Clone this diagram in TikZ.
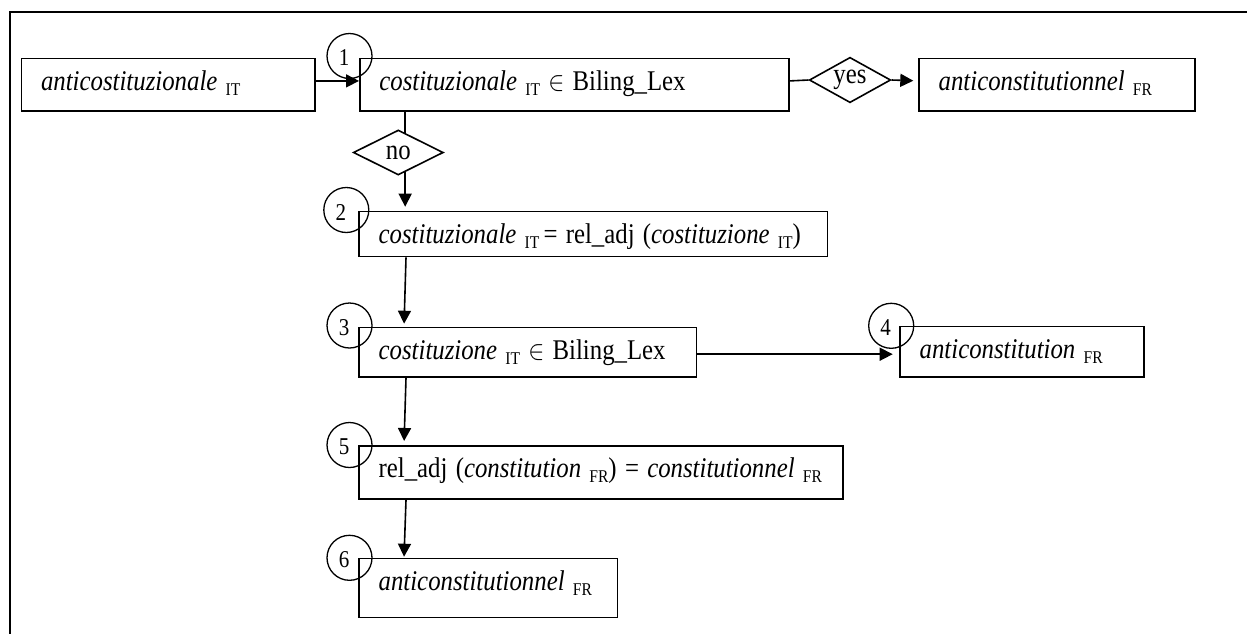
\documentclass[tikz,border=0pt]{standalone}
\usepackage{fontspec}
\usepackage{graphicx}
\setmainfont{Liberation Serif}
\usetikzlibrary{arrows.meta,shapes.geometric,calc}
\newcommand{\lang}[1]{\raisebox{-2.2pt}{\fontsize{7.8}{8}\selectfont #1}}
\newcommand{\mainsz}{\fontsize{12.4}{14}\selectfont}
\newcommand{\tall}[1]{\scalebox{1}[1.15]{#1}}
\begin{document}
\begin{tikzpicture}[x=0.5pt,y=-0.5pt,
  bx/.style n args={2}{draw, line width=0.85pt, anchor=north west, inner xsep=9.75pt,
     inner ysep=0pt, text height=16pt, text width=#1, text depth=#2, align=left, font=\mainsz},
  num/.style={circle, draw, line width=0.65pt, minimum size=22.5pt, inner sep=0pt},
  numtxt/.style={font=\fontsize{10.5}{12}\selectfont, inner sep=0pt, xshift=-2.75pt, yshift=-1pt},
  dia/.style={diamond, draw, line width=0.8pt, inner sep=0pt, aspect=2, font=\mainsz},
  ln/.style={line width=0.8pt},
  arr/.style={line width=0.8pt, -{Triangle[length=6.5pt,width=6.5pt]}},
  frame/.style={line width=1.15pt}]
\useasboundingbox (0,0) rectangle (1247,633);
\draw[frame] (10,640) -- (10,11.7) -- (1255,11.7);

% boxes
\node[bx={127.3pt}{10.15pt}] (A) at (20.7,57.7) {\tall{\textit{anticostituzionale} \lang{IT}}};
\node[bx={195.15pt}{10.15pt}] (B1) at (359,57.7) {\tall{\textit{costituzionale} \lang{IT} $\in$ Biling\_Lex}};
\node[bx={118.35pt}{10.15pt}] (FR1) at (918.3,57.7) {\tall{\textit{anticonstitutionnel} \lang{FR}}};
\node[bx={214.7pt}{6.5pt}] (B2) at (358.3,210.7) {\tall{\textit{costituzionale} \lang{IT}\,= rel\_adj (\textit{costituzione} \lang{IT})}};
\node[bx={149.2pt}{8.65pt}] (B3) at (358.3,326.7) {\tall{\textit{costituzione} \lang{IT} $\in$ Biling\_Lex}};
\node[bx={102.5pt}{9.15pt}] (B4) at (899.3,325.7) {\tall{\textit{anticonstitution} \lang{FR}}};
\node[bx={222.25pt}{10.65pt}] (B5) at (358.3,445) {\tall{rel\_adj (\textit{constitution} \lang{FR}) = \textit{constitutionnel} \lang{FR}}};
\node[bx={109.7pt}{13.5pt}] (B6) at (358.3,557.7) {\tall{\textit{anticonstitutionnel} \lang{FR}}};

% decisions
\node[dia, minimum width=40.7pt, minimum height=22.7pt] (YES) at (850,80) {\tall{yes}};
\node[dia, minimum width=45pt, minimum height=22.5pt] (NO) at (398.3,152.5) {\tall{no}};

% step numbers
\node[num, label={[numtxt]center:\tall{1}}] (c1) at (349.5,56) {};
\node[num, label={[numtxt]center:\tall{2}}] (c2) at (346.3,210) {};
\node[num, label={[numtxt]center:\tall{3}}] (c3) at (349.5,325.5) {};
\node[num, label={[numtxt]center:\tall{4}}] (c4) at (891.2,325.8) {};
\node[num, label={[numtxt]center:\tall{5}}] (c5) at (349.5,445) {};
\node[num, label={[numtxt]center:\tall{6}}] (c6) at (349.5,557.8) {};

% connectors
\coordinate (p1) at ($(NO.north)!0.15!(NO.east)$);
\coordinate (p2) at ($(NO.south)!0.15!(NO.east)$);
\draw[arr] ([yshift=1.9pt]A.east) -- ([yshift=1.9pt]B1.west);
\draw[ln] ([yshift=1.9pt]B1.east) -- (YES.west);
\draw[arr, shorten >=2.5pt] (YES.east) -- ([yshift=1.9pt]FR1.west);
\draw[ln] (B1.south -| p1) -- (p1);
\draw[arr, shorten >=2pt] (p2) -- (B2.north -| p2);
\draw[arr, shorten >=1.5pt] ([xshift=23.85pt]B2.south west) -- ([xshift=22.85pt]B3.north west);
\draw[arr, shorten >=3.3pt] ([yshift=-1pt]B3.east) -- ([yshift=-1pt]B3.east -| B4.west);
\draw[arr, shorten >=2pt] ([xshift=23.85pt]B3.south west) -- ([xshift=22.85pt]B5.north west);
\draw[arr, shorten >=0.5pt] ([xshift=23.85pt]B5.south west) -- ([xshift=22.85pt]B6.north west);
\end{tikzpicture}
\end{document}
